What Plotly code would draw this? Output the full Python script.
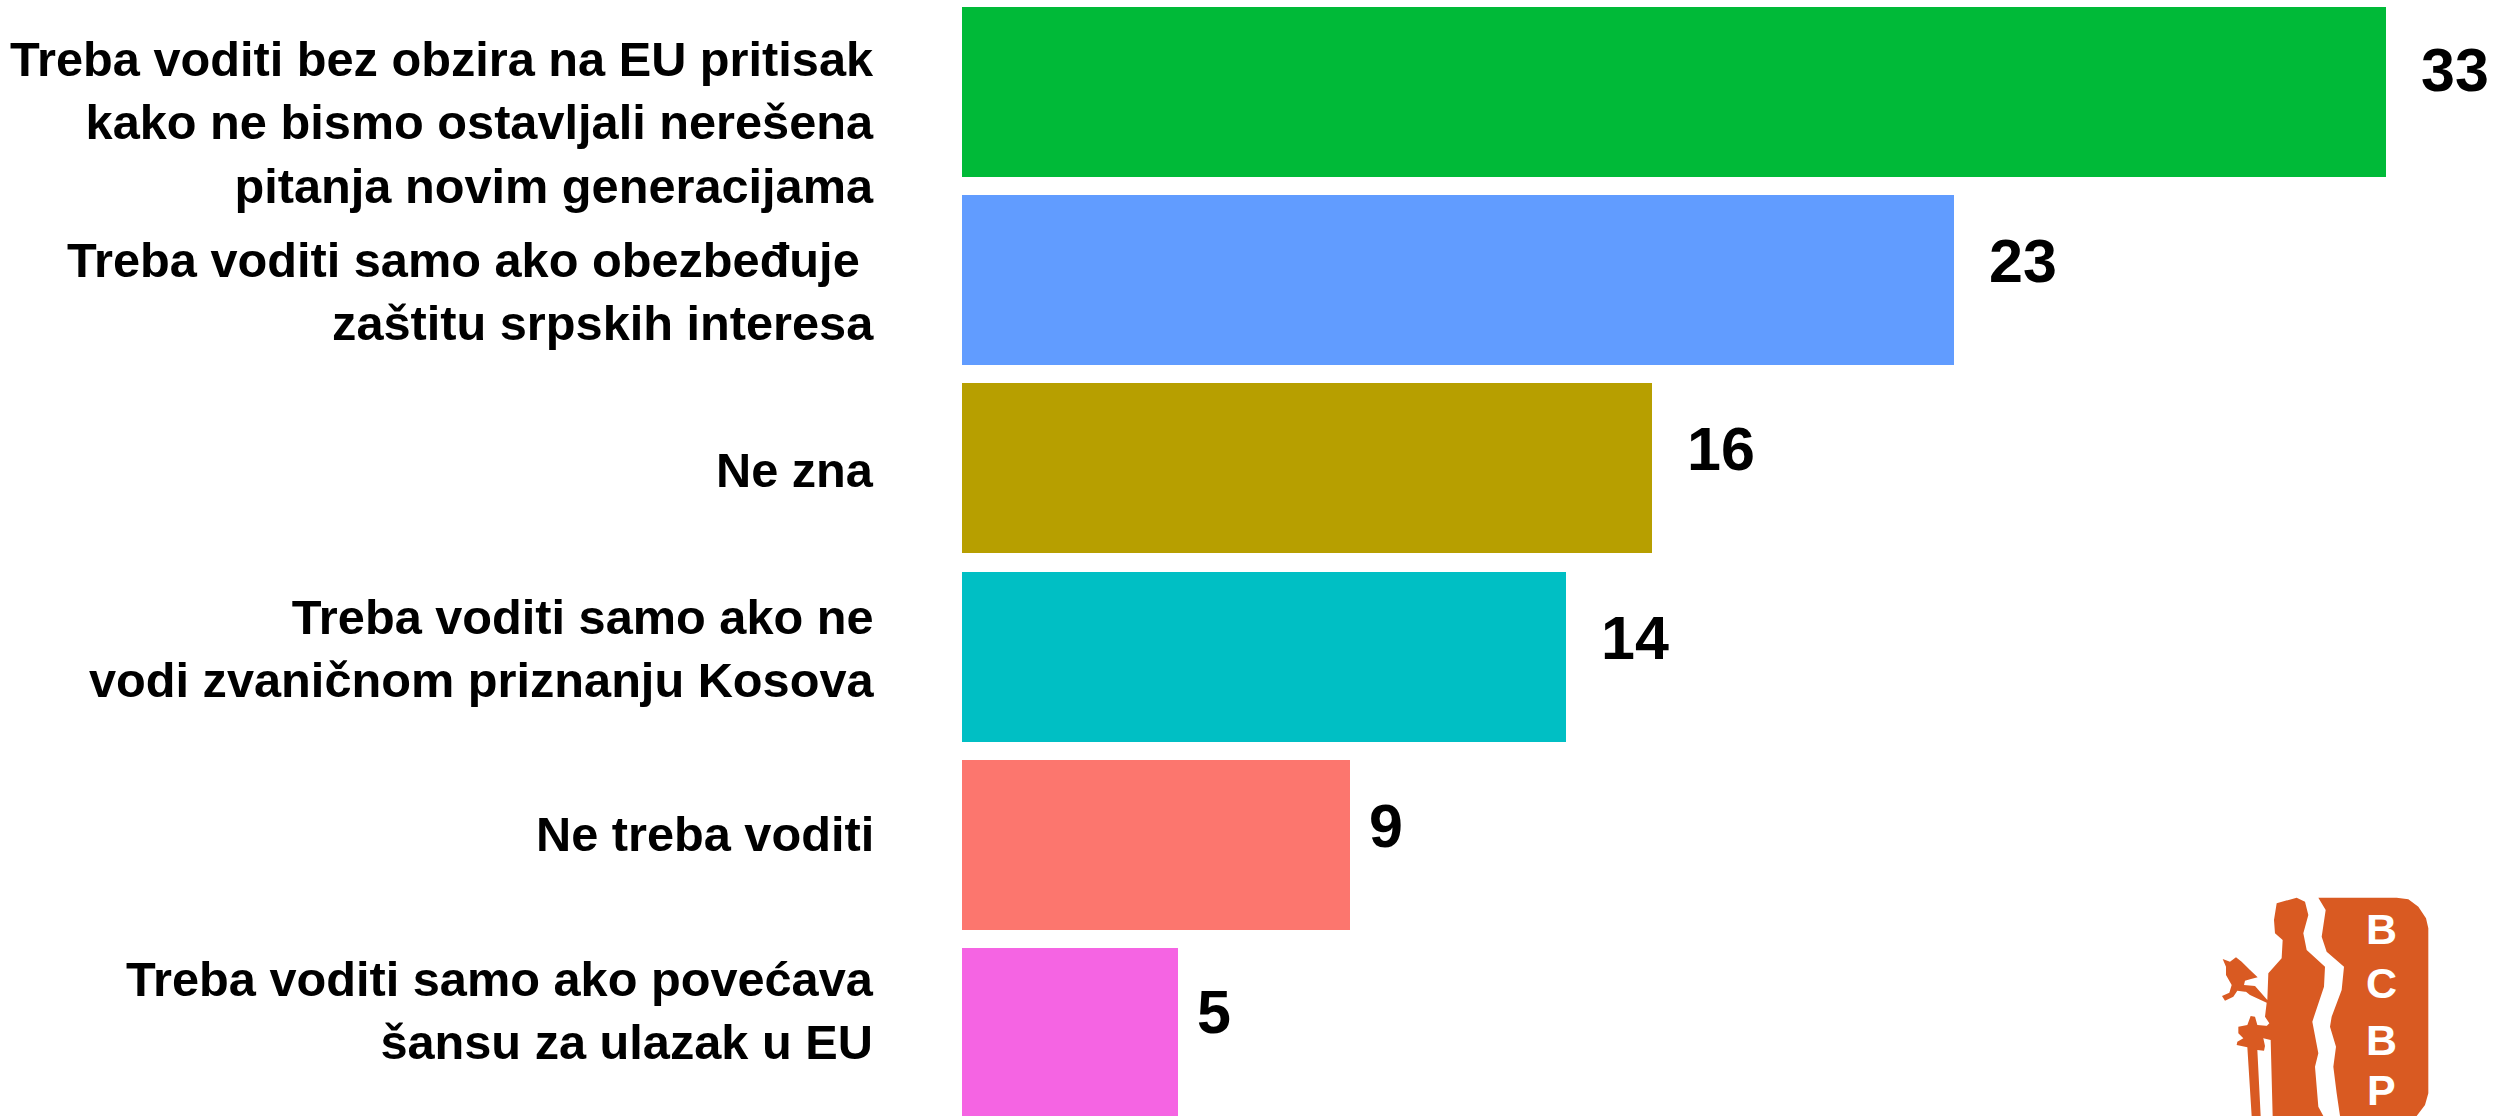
import plotly.graph_objects as go

categories = [
    "Treba voditi bez obzira na EU pritisak<br>kako ne bismo ostavljali nerešena<br>pitanja novim generacijama",
    "Treba voditi samo ako obezbeđuje <br>zaštitu srpskih interesa",
    "Ne zna",
    "Treba voditi samo ako ne<br>vodi zvaničnom priznanju Kosova",
    "Ne treba voditi",
    "Treba voditi samo ako povećava<br>šansu za ulazak u EU",
]
values = [33, 23, 16, 14, 9, 5]
colors = ["#00BA38", "#619CFF", "#B79F00", "#00BFC4", "#FC766E", "#F564E3"]
label_yshift = [-30, -11, -2, 8, 11, 23]
value_yshift = [22, 19, 19, 19, 19, 21]
logo_letters = ["B", "C", "B", "P"]

W, H = 2514, 1116
FONT = "Liberation Sans, Arial, sans-serif"
ORANGE = "#D95A22"

y_pos = list(range(len(values)))
fig = go.Figure(go.Bar(x=values, y=y_pos, orientation="h", width=0.904,
                       marker=dict(color=colors, line=dict(width=0)),
                       hoverinfo="skip", showlegend=False))

annotations = []
for i, (cat, val) in enumerate(zip(categories, values)):
    annotations.append(dict(text=f"<b>{cat}</b>", xref="paper", yref="y", x=876 / W, y=i,
                            xanchor="right", yanchor="middle", align="right", showarrow=False,
                            yshift=label_yshift[i], font=dict(family=FONT, size=48.7, color="black")))
    annotations.append(dict(text=f"<b>{val}</b>", xref="x", yref="y", x=val, y=i,
                            xanchor="left", yanchor="middle", showarrow=False,
                            xshift=(17 if val < 10 else 33), yshift=value_yshift[i],
                            font=dict(family=FONT, size=61, color="black")))


def logo_xy(zx, zy):
    return 2150 + zx / 3, 860 + zy / 3


def logo_path(points):
    parts = []
    for k, (zx, zy) in enumerate(points):
        px, py = logo_xy(zx, zy)
        parts.append(("M" if k == 0 else "L") + f"{px / W:.5f},{1 - py / H:.5f}")
    return " ".join(parts) + " Z"


panel = [(505, 113), (740, 113), (775, 118), (805, 140), (828, 175), (835, 205), (835, 700),
         (825, 735), (800, 768), (570, 768), (560, 700), (550, 620), (558, 560), (540, 500),
         (545, 470), (575, 390), (582, 320), (530, 275), (515, 230), (527, 150)]
body = [(380, 130), (440, 113), (465, 125), (475, 165), (460, 220), (470, 270), (525, 320),
        (522, 380), (487, 485), (505, 580), (495, 620), (505, 740), (520, 768), (368, 768),
        (362, 540), (340, 535), (320, 510), (345, 503), (358, 490), (345, 470), (350, 428),
        (300, 405), (275, 385), (315, 378), (352, 420), (355, 340), (395, 295), (398, 240),
        (375, 220), (372, 180)]
bird = [(218, 297), (240, 305), (258, 292), (275, 305), (300, 330), (323, 352), (300, 358),
        (285, 362), (282, 375), (315, 378), (310, 390), (285, 395), (262, 392), (250, 410),
        (225, 422), (216, 408), (238, 398), (245, 375), (228, 345), (228, 320)]
sword = [(302, 468), (315, 470), (322, 495), (355, 498), (340, 535), (345, 558), (342, 572),
         (322, 570), (332, 768), (305, 768), (292, 562), (260, 555), (262, 545), (280, 535),
         (265, 520), (265, 500), (292, 495)]

shapes = [dict(type="path", xref="paper", yref="paper", path=logo_path(p),
               fillcolor=ORANGE, line=dict(width=0), layer="above")
          for p in (panel, body, bird, sword)]

for letter, zy in zip(logo_letters, (207, 370, 540, 690)):
    px, py = logo_xy(693, zy)
    annotations.append(dict(text=f"<b>{letter}</b>", xref="paper", yref="paper",
                            x=px / W, y=1 - py / H, xanchor="center", yanchor="middle",
                            showarrow=False, font=dict(family=FONT, size=43, color="white")))

fig.update_layout(
    width=W, height=H, margin=dict(l=0, r=0, t=0, b=0), autosize=False,
    paper_bgcolor="white", plot_bgcolor="white", bargap=0,
    xaxis=dict(domain=[962 / W, 1], range=[0, (W - 962) / 43.15], visible=False),
    yaxis=dict(range=[(H - 92) / 188.2, -92 / 188.2], visible=False),
    annotations=annotations, shapes=shapes,
)
fig.write_html("out.html", config={"displayModeBar": False},
               post_script="document.body.style.margin='0';document.documentElement.style.overflow='hidden';")
